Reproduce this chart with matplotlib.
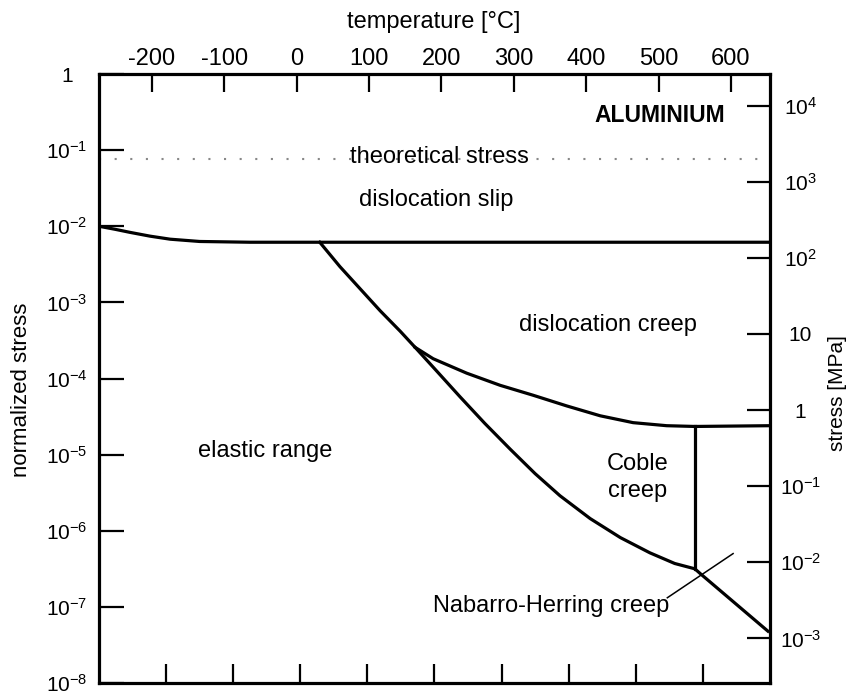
import matplotlib
matplotlib.use('Agg')
import matplotlib.pyplot as plt
from matplotlib.ticker import FixedLocator, NullLocator

plt.rcParams['font.family'] = ['Liberation Sans', 'DejaVu Sans']
plt.rcParams['axes.unicode_minus'] = False
plt.rcParams['mathtext.fontset'] = 'custom'
plt.rcParams['mathtext.rm'] = 'Liberation Sans'
plt.rcParams['mathtext.it'] = 'Liberation Sans:italic'
plt.rcParams['mathtext.bf'] = 'Liberation Sans:bold'

TM_K = 927.0        # melting temperature for the celsius scale, K
G_MPA = 26000.0     # shear modulus of aluminium, MPa

# ---- field boundaries: homologous temperature T/Tm vs log10(stress/G) ----
slip_T   = [0.0, 0.024, 0.046, 0.076, 0.106, 0.150, 0.225, 1.0]
slip_log = [-2.0, -2.04, -2.08, -2.13, -2.17, -2.20, -2.21, -2.21]

elastic_T   = [0.329, 0.359, 0.389, 0.419, 0.449, 0.471, 0.501, 0.538, 0.575, 0.613,
               0.650, 0.687, 0.732, 0.777, 0.821, 0.858, 0.888, 0.897, 0.997]
elastic_log = [-2.21, -2.53, -2.82, -3.11, -3.38, -3.59, -3.88, -4.24, -4.59, -4.93,
               -5.25, -5.54, -5.84, -6.09, -6.29, -6.43, -6.50, -6.57, -7.32]

creep_T   = [0.471, 0.498, 0.548, 0.598, 0.647, 0.697, 0.747, 0.796, 0.846, 0.888, 1.0]
creep_log = [-3.59, -3.74, -3.93, -4.09, -4.22, -4.36, -4.49, -4.58, -4.62, -4.63, -4.62]

coble_T   = [0.888, 0.888]
coble_log = [-4.63, -6.50]

nh_T   = [0.847, 0.945]
nh_log = [-6.88, -6.30]

theoretical_log = -1.12

bottom_ticks = [0.1, 0.2, 0.3, 0.4, 0.5, 0.6, 0.7, 0.8, 0.9]
celsius_ticks = [-200, -100, 0, 100, 200, 300, 400, 500, 600]
norm_ticks = [1, 1e-1, 1e-2, 1e-3, 1e-4, 1e-5, 1e-6, 1e-7, 1e-8]
norm_labels = ['1'] + [r'$\mathregular{10^{-%d}}$' % i for i in range(1, 9)]
mpa_ticks = [1e4, 1e3, 1e2, 10, 1, 1e-1, 1e-2, 1e-3]
mpa_labels = [r'$\mathregular{10^{4}}$', r'$\mathregular{10^{3}}$', r'$\mathregular{10^{2}}$',
              '10', '1', r'$\mathregular{10^{-1}}$', r'$\mathregular{10^{-2}}$',
              r'$\mathregular{10^{-3}}$']


def pw(vals):
    return [10 ** v for v in vals]


fig = plt.figure(figsize=(8.54, 6.92), dpi=100)
ax = fig.add_axes([99 / 854, 1 - 683 / 692, 671 / 854, 609 / 692])
ax.set_yscale('log')
ax.set_xlim(0, 1)
ax.set_ylim(1e-8, 1)

lw = 2.3
ax.plot(slip_T, pw(slip_log), color='black', lw=lw, solid_capstyle='butt')
ax.plot(elastic_T, pw(elastic_log), color='black', lw=lw, solid_joinstyle='round')
ax.plot(creep_T, pw(creep_log), color='black', lw=lw, solid_joinstyle='round')
ax.plot(coble_T, pw(coble_log), color='black', lw=lw)
ax.plot(nh_T, pw(nh_log), color='black', lw=1.1)
ax.axhline(10 ** theoretical_log, color='#888888', lw=1.5, ls=(0, (1, 6.5)))

# region labels
fs = 17
ax.text(0.836, 10 ** -0.54, 'ALUMINIUM', fontsize=16.5, fontweight='bold', ha='center', va='center')
ax.text(0.507, 10 ** -1.09, 'theoretical stress', fontsize=fs, ha='center', va='center')
ax.text(0.503, 10 ** -1.66, 'dislocation slip', fontsize=fs, ha='center', va='center')
ax.text(0.759, 10 ** -3.30, 'dislocation creep', fontsize=fs, ha='center', va='center')
ax.text(0.247, 10 ** -4.95, 'elastic range', fontsize=fs, ha='center', va='center')
ax.text(0.803, 10 ** -5.30, 'Coble\ncreep', fontsize=fs, ha='center', va='center', linespacing=1.3)
ax.text(0.498, 10 ** -6.99, 'Nabarro-Herring creep', fontsize=fs, ha='left', va='center')

# bottom (homologous temperature) ticks, unlabeled
ax.xaxis.set_major_locator(FixedLocator(bottom_ticks))
ax.tick_params(axis='x', which='both', direction='in', length=13.5, width=1.6,
               top=False, labelbottom=False)

# left normalized stress axis
ax.yaxis.set_major_locator(FixedLocator(norm_ticks))
ax.yaxis.set_minor_locator(NullLocator())
ax.set_yticklabels(norm_labels)
ax.tick_params(axis='y', which='major', direction='in', length=18, width=1.6,
               right=False, labelsize=15, pad=23)
plt.setp(ax.get_yticklabels(), ha='center')

for sp in ax.spines.values():
    sp.set_linewidth(2.3)

# top celsius axis
ax_top = ax.twiny()
ax_top.set_xlim(0 * TM_K - 273, 1 * TM_K - 273)
ax_top.xaxis.set_major_locator(FixedLocator(celsius_ticks))
ax_top.xaxis.set_minor_locator(NullLocator())
ax_top.tick_params(axis='x', direction='in', length=13, width=1.6, labelsize=17, pad=3)
for sp in ax_top.spines.values():
    sp.set_visible(False)

# right stress axis in MPa
ax_r = ax.twinx()
ax_r.set_yscale('log')
ax_r.set_ylim(1e-8 * G_MPA, 1 * G_MPA)
ax_r.yaxis.set_major_locator(FixedLocator(mpa_ticks))
ax_r.yaxis.set_minor_locator(NullLocator())
ax_r.set_yticklabels(mpa_labels)
ax_r.tick_params(axis='y', which='major', direction='in', length=16.5, width=1.6,
                 labelsize=15, pad=22)
plt.setp(ax_r.get_yticklabels(), ha='center')
for sp in ax_r.spines.values():
    sp.set_visible(False)

# axis titles
fig.text(434 / 854, 1 - 22 / 692, 'temperature [°C]', fontsize=17, ha='center', va='center')
fig.text(22 / 854, 1 - 390 / 692, 'normalized stress', fontsize=16, rotation=90,
         ha='center', va='center')
fig.text(838 / 854, 1 - 393 / 692, 'stress [MPa]', fontsize=15, rotation=90,
         ha='center', va='center')

fig.savefig('out.png', dpi=100)
